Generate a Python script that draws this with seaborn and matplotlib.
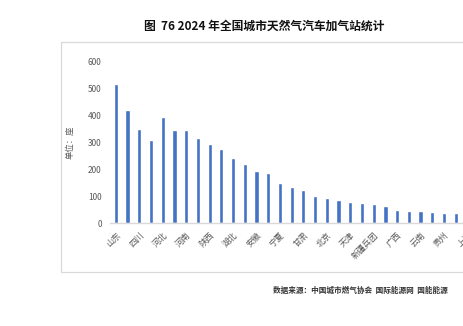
import matplotlib
matplotlib.use("Agg")
import matplotlib.pyplot as plt
from matplotlib.patches import Rectangle
import seaborn as sns
import pandas as pd

# 2024 natural-gas vehicle filling stations by province (unit: stations)
provinces = ["山东", "新疆", "四川", "江苏", "河北", "广东", "河南", "重庆",
             "陕西", "山西", "湖北", "内蒙古", "安徽", "辽宁", "宁夏", "浙江",
             "甘肃", "湖南", "北京", "黑龙江", "天津", "吉林", "新疆兵团", "江西",
             "广西", "福建", "云南", "青海", "贵州", "海南", "上海"]
stations = [516, 420, 351, 308, 396, 348, 348, 317,
            295, 277, 241, 220, 195, 186, 148, 136,
            124, 101, 93, 86, 80, 74, 72, 64,
            49, 46, 44, 42, 39, 37, 35]
y_ticks = [0, 100, 200, 300, 400, 500, 600]

title_text = "图  76 2024 年全国城市天然气汽车加气站统计"
source_text = "数据来源：中国城市燃气协会  国际能源网  国能能源"
y_label = "单位：座"

sns.set_theme(style="white")
plt.rcParams["font.family"] = ["Noto Sans CJK SC", "DejaVu Sans"]

W, H = 463, 326
fig = plt.figure(figsize=(W / 100, H / 100), dpi=100)
fig.patch.set_facecolor("white")

# chart-area frame (runs on past the right edge)
fig.patches.append(Rectangle((60.7 / W, (H - 271.7) / H), 1.2, (271.7 - 41.7) / H,
                             transform=fig.transFigure, fill=False,
                             edgecolor="#D9D9D9", linewidth=0.9, zorder=0))

left_px, right_px = 110.0, 110.0 + 31 * 11.72
bottom_px, top_px = 223.3, 61.7
ax = fig.add_axes([left_px / W, (H - bottom_px) / H,
                   (right_px - left_px) / W, (bottom_px - top_px) / H])

df = pd.DataFrame({"province": provinces, "stations": stations})
sns.barplot(data=df, x="province", y="stations", color="#4472C4",
            saturation=1, width=0.36, ax=ax)

ax.set_ylim(0, 600)
ax.set_yticks(y_ticks)
ax.set_yticklabels([str(v) for v in y_ticks], fontsize=6, color="#595959")
ax.set_xlim(-0.5, len(provinces) - 0.5)
ax.set_xlabel("")
ax.set_ylabel(y_label, fontsize=6, color="#595959", labelpad=10)
ax.tick_params(axis="both", length=0)
ax.tick_params(axis="y", pad=6)
ax.tick_params(axis="x", pad=5)

# every second province name is shown, slanted at 45 degrees
ax.set_xticks(range(len(provinces)))
ax.set_xticklabels(provinces, rotation=45, ha="right", va="top",
                   rotation_mode="anchor", fontsize=6, color="#595959")
for i, lab in enumerate(ax.get_xticklabels()):
    if i % 2 == 1:
        lab.set_visible(False)

for side in ["left", "right", "top"]:
    ax.spines[side].set_visible(False)
ax.spines["bottom"].set_color("#D9D9D9")
ax.spines["bottom"].set_linewidth(1.0)
ax.set_facecolor("none")

fig.text(264 / W, (H - 26) / H, title_text, ha="center", va="center",
         fontsize=8.5, fontweight="bold", color="#111111")
fig.text(273 / W, (H - 290) / H, source_text, ha="left", va="center",
         fontsize=5.5, fontweight="bold", color="#333333")

fig.savefig("out.png", dpi=100)
